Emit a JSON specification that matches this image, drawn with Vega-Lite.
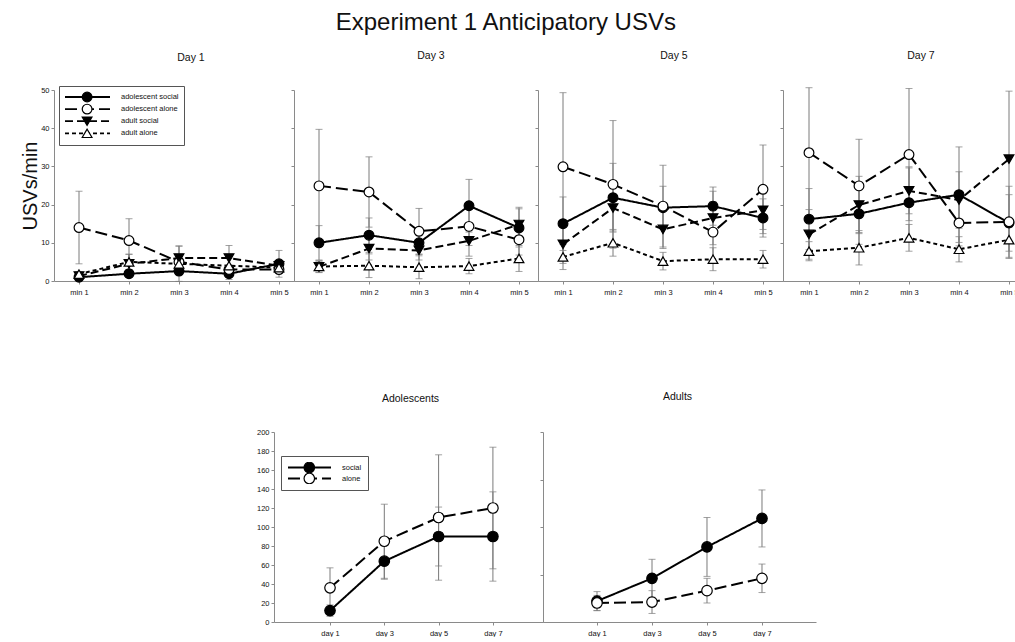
{
  "$schema": "https://vega.github.io/schema/vega-lite/v6.json",
  "padding": {"left": 20, "top": 10, "right": 0, "bottom": 0},
  "config": {
    "font": "Liberation Sans",
    "view": {"stroke": null},
    "axis": {"grid": false, "domainColor": "#8a8a8a", "tickColor": "#8a8a8a", "labelColor": "#111", "labelFontSize": 7.5, "tickSize": 3, "labelFont": "Liberation Sans"},
    "title": {"fontWeight": "normal", "color": "#111"}
  },
  "title": {"text": "Experiment 1 Anticipatory USVs", "fontSize": 24, "anchor": "middle", "offset": 16, "dx": -25},
  "datasets": {
    "top": [
      {"day": "Day 1", "min": 1, "group": "adolescent social", "mean": 1.0, "se": 0.5},
      {"day": "Day 1", "min": 2, "group": "adolescent social", "mean": 1.9, "se": 0.8},
      {"day": "Day 1", "min": 3, "group": "adolescent social", "mean": 2.6, "se": 0.8},
      {"day": "Day 1", "min": 4, "group": "adolescent social", "mean": 1.9, "se": 1.5},
      {"day": "Day 1", "min": 5, "group": "adolescent social", "mean": 4.5, "se": 3.5},
      {"day": "Day 1", "min": 1, "group": "adolescent alone", "mean": 14.0, "se": 9.5},
      {"day": "Day 1", "min": 2, "group": "adolescent alone", "mean": 10.6, "se": 5.7},
      {"day": "Day 1", "min": 3, "group": "adolescent alone", "mean": 5.0, "se": 1.5},
      {"day": "Day 1", "min": 4, "group": "adolescent alone", "mean": 3.0, "se": 1.0},
      {"day": "Day 1", "min": 5, "group": "adolescent alone", "mean": 3.0, "se": 0.8},
      {"day": "Day 1", "min": 1, "group": "adult social", "mean": 1.3, "se": 0.5},
      {"day": "Day 1", "min": 2, "group": "adult social", "mean": 4.5, "se": 2.5},
      {"day": "Day 1", "min": 3, "group": "adult social", "mean": 6.0, "se": 3.2},
      {"day": "Day 1", "min": 4, "group": "adult social", "mean": 6.0, "se": 3.3},
      {"day": "Day 1", "min": 5, "group": "adult social", "mean": 4.0, "se": 1.0},
      {"day": "Day 1", "min": 1, "group": "adult alone", "mean": 1.8, "se": 0.6},
      {"day": "Day 1", "min": 2, "group": "adult alone", "mean": 5.0, "se": 2.0},
      {"day": "Day 1", "min": 3, "group": "adult alone", "mean": 4.5, "se": 4.6},
      {"day": "Day 1", "min": 4, "group": "adult alone", "mean": 4.0, "se": 2.0},
      {"day": "Day 1", "min": 5, "group": "adult alone", "mean": 3.5, "se": 1.5},

      {"day": "Day 3", "min": 1, "group": "adolescent social", "mean": 10.0, "se": 4.5},
      {"day": "Day 3", "min": 2, "group": "adolescent social", "mean": 12.0, "se": 4.5},
      {"day": "Day 3", "min": 3, "group": "adolescent social", "mean": 10.0, "se": 3.0},
      {"day": "Day 3", "min": 4, "group": "adolescent social", "mean": 19.7, "se": 6.9},
      {"day": "Day 3", "min": 5, "group": "adolescent social", "mean": 13.9, "se": 5.0},
      {"day": "Day 3", "min": 1, "group": "adolescent alone", "mean": 24.9, "se": 14.8},
      {"day": "Day 3", "min": 2, "group": "adolescent alone", "mean": 23.3, "se": 9.2},
      {"day": "Day 3", "min": 3, "group": "adolescent alone", "mean": 13.0, "se": 6.0},
      {"day": "Day 3", "min": 4, "group": "adolescent alone", "mean": 14.3, "se": 5.0},
      {"day": "Day 3", "min": 5, "group": "adolescent alone", "mean": 10.8, "se": 4.0},
      {"day": "Day 3", "min": 1, "group": "adult social", "mean": 3.7, "se": 1.5},
      {"day": "Day 3", "min": 2, "group": "adult social", "mean": 8.5, "se": 3.0},
      {"day": "Day 3", "min": 3, "group": "adult social", "mean": 8.0, "se": 2.5},
      {"day": "Day 3", "min": 4, "group": "adult social", "mean": 10.5, "se": 4.0},
      {"day": "Day 3", "min": 5, "group": "adult social", "mean": 14.8, "se": 4.5},
      {"day": "Day 3", "min": 1, "group": "adult alone", "mean": 3.8, "se": 1.5},
      {"day": "Day 3", "min": 2, "group": "adult alone", "mean": 4.0, "se": 3.1},
      {"day": "Day 3", "min": 3, "group": "adult alone", "mean": 3.6, "se": 3.0},
      {"day": "Day 3", "min": 4, "group": "adult alone", "mean": 3.9, "se": 2.0},
      {"day": "Day 3", "min": 5, "group": "adult alone", "mean": 5.9, "se": 3.4},

      {"day": "Day 5", "min": 1, "group": "adolescent social", "mean": 15.0, "se": 7.0},
      {"day": "Day 5", "min": 2, "group": "adolescent social", "mean": 21.8, "se": 9.0},
      {"day": "Day 5", "min": 3, "group": "adolescent social", "mean": 19.2, "se": 5.6},
      {"day": "Day 5", "min": 4, "group": "adolescent social", "mean": 19.6, "se": 5.0},
      {"day": "Day 5", "min": 5, "group": "adolescent social", "mean": 16.5, "se": 5.0},
      {"day": "Day 5", "min": 1, "group": "adolescent alone", "mean": 29.9, "se": 19.4},
      {"day": "Day 5", "min": 2, "group": "adolescent alone", "mean": 25.3, "se": 16.7},
      {"day": "Day 5", "min": 3, "group": "adolescent alone", "mean": 19.6, "se": 10.7},
      {"day": "Day 5", "min": 4, "group": "adolescent alone", "mean": 12.8, "se": 8.0},
      {"day": "Day 5", "min": 5, "group": "adolescent alone", "mean": 24.0, "se": 11.6},
      {"day": "Day 5", "min": 1, "group": "adult social", "mean": 9.6, "se": 5.0},
      {"day": "Day 5", "min": 2, "group": "adult social", "mean": 19.1, "se": 6.0},
      {"day": "Day 5", "min": 3, "group": "adult social", "mean": 13.5, "se": 5.0},
      {"day": "Day 5", "min": 4, "group": "adult social", "mean": 16.5, "se": 7.0},
      {"day": "Day 5", "min": 5, "group": "adult social", "mean": 18.5, "se": 5.0},
      {"day": "Day 5", "min": 1, "group": "adult alone", "mean": 6.3, "se": 3.3},
      {"day": "Day 5", "min": 2, "group": "adult alone", "mean": 10.0, "se": 3.5},
      {"day": "Day 5", "min": 3, "group": "adult alone", "mean": 5.2, "se": 2.3},
      {"day": "Day 5", "min": 4, "group": "adult alone", "mean": 5.7, "se": 3.0},
      {"day": "Day 5", "min": 5, "group": "adult alone", "mean": 5.7, "se": 2.3},

      {"day": "Day 7", "min": 1, "group": "adolescent social", "mean": 16.2, "se": 8.0},
      {"day": "Day 7", "min": 2, "group": "adolescent social", "mean": 17.6, "se": 8.0},
      {"day": "Day 7", "min": 3, "group": "adolescent social", "mean": 20.5, "se": 9.4},
      {"day": "Day 7", "min": 4, "group": "adolescent social", "mean": 22.6, "se": 12.5},
      {"day": "Day 7", "min": 5, "group": "adolescent social", "mean": 15.2, "se": 7.4},
      {"day": "Day 7", "min": 1, "group": "adolescent alone", "mean": 33.6, "se": 17.0},
      {"day": "Day 7", "min": 2, "group": "adolescent alone", "mean": 24.9, "se": 12.2},
      {"day": "Day 7", "min": 3, "group": "adolescent alone", "mean": 33.1, "se": 17.3},
      {"day": "Day 7", "min": 4, "group": "adolescent alone", "mean": 15.2, "se": 6.0},
      {"day": "Day 7", "min": 5, "group": "adolescent alone", "mean": 15.5, "se": 9.3},
      {"day": "Day 7", "min": 1, "group": "adult social", "mean": 12.2, "se": 6.5},
      {"day": "Day 7", "min": 2, "group": "adult social", "mean": 19.9, "se": 7.5},
      {"day": "Day 7", "min": 3, "group": "adult social", "mean": 23.6, "se": 6.0},
      {"day": "Day 7", "min": 4, "group": "adult social", "mean": 21.2, "se": 7.4},
      {"day": "Day 7", "min": 5, "group": "adult social", "mean": 31.9, "se": 17.8},
      {"day": "Day 7", "min": 1, "group": "adult alone", "mean": 7.8, "se": 2.5},
      {"day": "Day 7", "min": 2, "group": "adult alone", "mean": 8.7, "se": 4.5},
      {"day": "Day 7", "min": 3, "group": "adult alone", "mean": 11.3, "se": 3.5},
      {"day": "Day 7", "min": 4, "group": "adult alone", "mean": 8.3, "se": 3.3},
      {"day": "Day 7", "min": 5, "group": "adult alone", "mean": 10.8, "se": 4.9}
    ],
    "bottom": [
      {"panel": "Adolescents", "day": 1, "group": "social", "mean": 12, "se": 6},
      {"panel": "Adolescents", "day": 3, "group": "social", "mean": 64, "se": 19},
      {"panel": "Adolescents", "day": 5, "group": "social", "mean": 90, "se": 31},
      {"panel": "Adolescents", "day": 7, "group": "social", "mean": 90, "se": 47},
      {"panel": "Adolescents", "day": 1, "group": "alone", "mean": 36, "se": 21},
      {"panel": "Adolescents", "day": 3, "group": "alone", "mean": 85, "se": 39},
      {"panel": "Adolescents", "day": 5, "group": "alone", "mean": 110, "se": 66},
      {"panel": "Adolescents", "day": 7, "group": "alone", "mean": 120, "se": 64},
      {"panel": "Adults", "day": 1, "group": "social", "mean": 22, "se": 10},
      {"panel": "Adults", "day": 3, "group": "social", "mean": 46, "se": 20},
      {"panel": "Adults", "day": 5, "group": "social", "mean": 79, "se": 31},
      {"panel": "Adults", "day": 7, "group": "social", "mean": 109, "se": 30},
      {"panel": "Adults", "day": 1, "group": "alone", "mean": 20, "se": 8},
      {"panel": "Adults", "day": 3, "group": "alone", "mean": 21, "se": 12},
      {"panel": "Adults", "day": 5, "group": "alone", "mean": 33, "se": 13},
      {"panel": "Adults", "day": 7, "group": "alone", "mean": 46, "se": 15}
    ]
  },
  "resolve": {"scale": {"strokeDash": "independent", "shape": "independent", "fill": "independent"}},
  "bounds": "flush",
  "spacing": 342,
  "vconcat": [
    {
      "bounds": "flush",
      "spacing": 0,
      "resolve": {"scale": {"strokeDash": "independent", "shape": "independent", "fill": "independent"}, "legend": {"strokeDash": "independent", "shape": "independent", "fill": "independent"}},
      "hconcat": [
        {
          "width": 240, "height": 191,
          "title": {"text": "Day 1", "fontSize": 10.5, "offset": 22, "frame": "group", "dx": 17},
          "data": {"name": "top"},
          "transform": [{"filter": {"field": "day", "equal": "Day 1"}}],
          "encoding": {
            "x": {"field": "min", "type": "quantitative", "scale": {"domain": [0.5, 5.3], "nice": false, "zero": false}, "axis": {"values": [1, 2, 3, 4, 5], "labelExpr": "'min ' + datum.value", "title": null, "labelPadding": 4}},
            "y": {"field": "mean", "type": "quantitative", "scale": {"domain": [0, 50], "nice": false}, "axis": {"values": [0, 10, 20, 30, 40, 50], "title": "USVs/min", "titleFontSize": 20, "titleFontWeight": "normal", "titleColor": "#111", "titlePadding": 0, "labelPadding": 2}}
          },
          "layer": [
            {"mark": {"type": "errorbar", "color": "#7a7a7a", "thickness": 1, "ticks": {"size": 7, "thickness": 1, "color": "#7a7a7a"}}, "encoding": {"yError": {"field": "se"}}},
            {"mark": {"type": "line", "color": "black", "strokeWidth": 2},
             "encoding": {"strokeDash": {"field": "group", "type": "nominal", "sort": ["adolescent social", "adolescent alone", "adult social", "adult alone"],
               "scale": {"range": [[1, 0], [12, 5], [8, 4], [4, 3]]},
               "legend": {"orient": "none", "legendX": 5, "legendY": -4, "title": null, "symbolType": "stroke", "symbolSize": 2025, "symbolStrokeWidth": 1.8, "symbolStrokeColor": "black", "labelFontSize": 7.5, "labelColor": "#111", "labelOffset": 10, "clipHeight": 12, "rowPadding": 0.1, "padding": 5, "strokeColor": "#555", "zindex": 1}}}},
            {"mark": {"type": "point", "filled": true, "size": 95, "stroke": "black", "strokeWidth": 1.2, "opacity": 1},
             "encoding": {
               "shape": {"field": "group", "type": "nominal", "scale": {"domain": ["adolescent social", "adolescent alone", "adult social", "adult alone"], "range": ["circle", "circle", "triangle-down", "triangle-up"]},
                 "legend": {"orient": "none", "legendX": 5, "legendY": -4, "title": null, "symbolSize": 95, "symbolStrokeColor": "black", "symbolStrokeWidth": 1.2, "symbolOpacity": 1, "symbolOffset": 17.6, "labelExpr": "''", "clipHeight": 12, "rowPadding": 0.1, "padding": 5, "zindex": 2,
                   "encode": {"symbols": {"update": {"stroke": {"value": "black"}, "strokeWidth": {"value": 1.2}}}}}},
               "fill": {"field": "group", "type": "nominal", "scale": {"domain": ["adolescent social", "adolescent alone", "adult social", "adult alone"], "range": ["black", "white", "black", "white"]},
                 "legend": {"orient": "none", "legendX": 5, "legendY": -4, "title": null, "symbolSize": 95, "symbolStrokeColor": "black", "symbolStrokeWidth": 1.2, "symbolOpacity": 1, "symbolOffset": 17.6, "labelExpr": "''", "clipHeight": 12, "rowPadding": 0.1, "padding": 5, "zindex": 2,
                   "encode": {"symbols": {"update": {"stroke": {"value": "black"}, "strokeWidth": {"value": 1.2}}}}}}
             }}
          ]
        },
        {
          "width": 244, "height": 191,
          "title": {"text": "Day 3", "fontSize": 10.5, "offset": 28, "frame": "group", "dx": 15},
          "data": {"name": "top"},
          "transform": [{"filter": {"field": "day", "equal": "Day 3"}}],
          "encoding": {
            "x": {"field": "min", "type": "quantitative", "scale": {"domain": [0.5, 5.38], "nice": false, "zero": false}, "axis": {"values": [1, 2, 3, 4, 5], "labelExpr": "'min ' + datum.value", "title": null, "labelPadding": 4}},
            "y": {"field": "mean", "type": "quantitative", "scale": {"domain": [0, 50], "nice": false}, "axis": {"values": [0, 10, 20, 30, 40, 50], "title": null, "labels": false}}
          },
          "layer": [
            {"mark": {"type": "errorbar", "color": "#7a7a7a", "thickness": 1, "ticks": {"size": 7, "thickness": 1, "color": "#7a7a7a"}}, "encoding": {"yError": {"field": "se"}}},
            {"mark": {"type": "line", "color": "black", "strokeWidth": 2},
             "encoding": {"strokeDash": {"field": "group", "type": "nominal", "sort": ["adolescent social", "adolescent alone", "adult social", "adult alone"], "scale": {"range": [[1, 0], [12, 5], [8, 4], [4, 3]]}, "legend": null}}},
            {"mark": {"type": "point", "filled": true, "size": 95, "stroke": "black", "strokeWidth": 1.2, "opacity": 1},
             "encoding": {
               "shape": {"field": "group", "type": "nominal", "scale": {"domain": ["adolescent social", "adolescent alone", "adult social", "adult alone"], "range": ["circle", "circle", "triangle-down", "triangle-up"]}, "legend": null},
               "fill": {"field": "group", "type": "nominal", "scale": {"domain": ["adolescent social", "adolescent alone", "adult social", "adult alone"], "range": ["black", "white", "black", "white"]}, "legend": null}
             }}
          ]
        },
        {
          "width": 245, "height": 191,
          "title": {"text": "Day 5", "fontSize": 10.5, "offset": 28, "frame": "group", "dx": 13.5},
          "data": {"name": "top"},
          "transform": [{"filter": {"field": "day", "equal": "Day 5"}}],
          "encoding": {
            "x": {"field": "min", "type": "quantitative", "scale": {"domain": [0.5, 5.4], "nice": false, "zero": false}, "axis": {"values": [1, 2, 3, 4, 5], "labelExpr": "'min ' + datum.value", "title": null, "labelPadding": 4}},
            "y": {"field": "mean", "type": "quantitative", "scale": {"domain": [0, 50], "nice": false}, "axis": {"values": [0, 10, 20, 30, 40, 50], "title": null, "labels": false}}
          },
          "layer": [
            {"mark": {"type": "errorbar", "color": "#7a7a7a", "thickness": 1, "ticks": {"size": 7, "thickness": 1, "color": "#7a7a7a"}}, "encoding": {"yError": {"field": "se"}}},
            {"mark": {"type": "line", "color": "black", "strokeWidth": 2},
             "encoding": {"strokeDash": {"field": "group", "type": "nominal", "sort": ["adolescent social", "adolescent alone", "adult social", "adult alone"], "scale": {"range": [[1, 0], [12, 5], [8, 4], [4, 3]]}, "legend": null}}},
            {"mark": {"type": "point", "filled": true, "size": 95, "stroke": "black", "strokeWidth": 1.2, "opacity": 1},
             "encoding": {
               "shape": {"field": "group", "type": "nominal", "scale": {"domain": ["adolescent social", "adolescent alone", "adult social", "adult alone"], "range": ["circle", "circle", "triangle-down", "triangle-up"]}, "legend": null},
               "fill": {"field": "group", "type": "nominal", "scale": {"domain": ["adolescent social", "adolescent alone", "adult social", "adult alone"], "range": ["black", "white", "black", "white"]}, "legend": null}
             }}
          ]
        },
        {
          "width": 258, "height": 191,
          "title": {"text": "Day 7", "fontSize": 10.5, "offset": 26, "frame": "group", "dx": 9},
          "data": {"name": "top"},
          "transform": [{"filter": {"field": "day", "equal": "Day 7"}}],
          "encoding": {
            "x": {"field": "min", "type": "quantitative", "scale": {"domain": [0.48, 5.64], "nice": false, "zero": false}, "axis": {"values": [1, 2, 3, 4, 5], "labelExpr": "'min ' + datum.value", "title": null, "labelPadding": 4}},
            "y": {"field": "mean", "type": "quantitative", "scale": {"domain": [0, 50], "nice": false}, "axis": {"values": [0, 10, 20, 30, 40, 50], "title": null, "labels": false}}
          },
          "layer": [
            {"mark": {"type": "errorbar", "color": "#7a7a7a", "thickness": 1, "ticks": {"size": 7, "thickness": 1, "color": "#7a7a7a"}}, "encoding": {"yError": {"field": "se"}}},
            {"mark": {"type": "line", "color": "black", "strokeWidth": 2},
             "encoding": {"strokeDash": {"field": "group", "type": "nominal", "sort": ["adolescent social", "adolescent alone", "adult social", "adult alone"], "scale": {"range": [[1, 0], [12, 5], [8, 4], [4, 3]]}, "legend": null}}},
            {"mark": {"type": "point", "filled": true, "size": 95, "stroke": "black", "strokeWidth": 1.2, "opacity": 1},
             "encoding": {
               "shape": {"field": "group", "type": "nominal", "scale": {"domain": ["adolescent social", "adolescent alone", "adult social", "adult alone"], "range": ["circle", "circle", "triangle-down", "triangle-up"]}, "legend": null},
               "fill": {"field": "group", "type": "nominal", "scale": {"domain": ["adolescent social", "adolescent alone", "adult social", "adult alone"], "range": ["black", "white", "black", "white"]}, "legend": null}
             }}
          ]
        }
      ]
    },
    {
      "bounds": "flush",
      "spacing": 0,
      "resolve": {"scale": {"strokeDash": "independent", "shape": "independent", "fill": "independent"}, "legend": {"strokeDash": "independent", "shape": "independent", "fill": "independent"}},
      "hconcat": [
        {"width": 220, "height": 190, "data": {"values": []}, "mark": "point"},
        {
          "width": 269, "height": 190,
          "title": {"text": "Adolescents", "fontSize": 10.5, "offset": 24, "frame": "group", "dx": 2},
          "data": {"name": "bottom"},
          "transform": [{"filter": {"field": "panel", "equal": "Adolescents"}}],
          "encoding": {
            "x": {"field": "day", "type": "quantitative", "scale": {"domain": [-1.063, 8.845], "nice": false, "zero": false}, "axis": {"values": [1, 3, 5, 7], "labelExpr": "'day ' + datum.value", "title": null, "labelPadding": 4}},
            "y": {"field": "mean", "type": "quantitative", "scale": {"domain": [0, 200], "nice": false}, "axis": {"values": [0, 20, 40, 60, 80, 100, 120, 140, 160, 180, 200], "title": null, "labelPadding": 2}}
          },
          "layer": [
            {"mark": {"type": "errorbar", "color": "#7a7a7a", "thickness": 1, "ticks": {"size": 7, "thickness": 1, "color": "#7a7a7a"}}, "encoding": {"yError": {"field": "se"}}},
            {"mark": {"type": "line", "color": "black", "strokeWidth": 2},
             "encoding": {"strokeDash": {"field": "group", "type": "nominal", "sort": ["social", "alone"],
               "scale": {"range": [[1, 0], [12, 5]]},
               "legend": {"orient": "none", "legendX": 7, "legendY": 24, "title": null, "symbolType": "stroke", "symbolSize": 1849, "symbolStrokeWidth": 1.8, "symbolStrokeColor": "black", "labelFontSize": 7.5, "labelColor": "#111", "labelOffset": 10, "clipHeight": 11, "rowPadding": 0, "padding": 6, "strokeColor": "#555", "zindex": 1}}}},
            {"mark": {"type": "point", "filled": true, "size": 110, "stroke": "black", "strokeWidth": 1.2, "opacity": 1},
             "encoding": {
               "shape": {"field": "group", "type": "nominal", "scale": {"domain": ["social", "alone"], "range": ["circle", "circle"]},
                 "legend": {"orient": "none", "legendX": 7, "legendY": 24, "title": null, "symbolSize": 110, "symbolStrokeColor": "black", "symbolStrokeWidth": 1.2, "symbolOpacity": 1, "symbolOffset": 16.3, "labelExpr": "''", "clipHeight": 11, "rowPadding": 0, "padding": 6, "zindex": 2,
                   "encode": {"symbols": {"update": {"stroke": {"value": "black"}, "strokeWidth": {"value": 1.2}}}}}},
               "fill": {"field": "group", "type": "nominal", "scale": {"domain": ["social", "alone"], "range": ["black", "white"]},
                 "legend": {"orient": "none", "legendX": 7, "legendY": 24, "title": null, "symbolSize": 110, "symbolStrokeColor": "black", "symbolStrokeWidth": 1.2, "symbolOpacity": 1, "symbolOffset": 16.3, "labelExpr": "''", "clipHeight": 11, "rowPadding": 0, "padding": 6, "zindex": 2,
                   "encode": {"symbols": {"update": {"stroke": {"value": "black"}, "strokeWidth": {"value": 1.2}}}}}}
             }}
          ]
        },
        {
          "width": 273, "height": 190,
          "title": {"text": "Adults", "fontSize": 10.5, "offset": 29, "frame": "group", "dx": -2},
          "data": {"name": "bottom"},
          "transform": [{"filter": {"field": "panel", "equal": "Adults"}}],
          "encoding": {
            "x": {"field": "day", "type": "quantitative", "scale": {"domain": [-0.964, 8.964], "nice": false, "zero": false}, "axis": {"values": [1, 3, 5, 7], "labelExpr": "'day ' + datum.value", "title": null, "labelPadding": 4}},
            "y": {"field": "mean", "type": "quantitative", "scale": {"domain": [0, 200], "nice": false}, "axis": {"values": [0, 50, 100, 150, 200], "title": null, "labels": false}}
          },
          "layer": [
            {"mark": {"type": "errorbar", "color": "#7a7a7a", "thickness": 1, "ticks": {"size": 7, "thickness": 1, "color": "#7a7a7a"}}, "encoding": {"yError": {"field": "se"}}},
            {"mark": {"type": "line", "color": "black", "strokeWidth": 2},
             "encoding": {"strokeDash": {"field": "group", "type": "nominal", "sort": ["social", "alone"], "scale": {"range": [[1, 0], [12, 5]]}, "legend": null}}},
            {"mark": {"type": "point", "filled": true, "size": 110, "stroke": "black", "strokeWidth": 1.2, "opacity": 1},
             "encoding": {
               "shape": {"field": "group", "type": "nominal", "scale": {"domain": ["social", "alone"], "range": ["circle", "circle"]}, "legend": null},
               "fill": {"field": "group", "type": "nominal", "scale": {"domain": ["social", "alone"], "range": ["black", "white"]}, "legend": null}
             }}
          ]
        }
      ]
    }
  ]
}
